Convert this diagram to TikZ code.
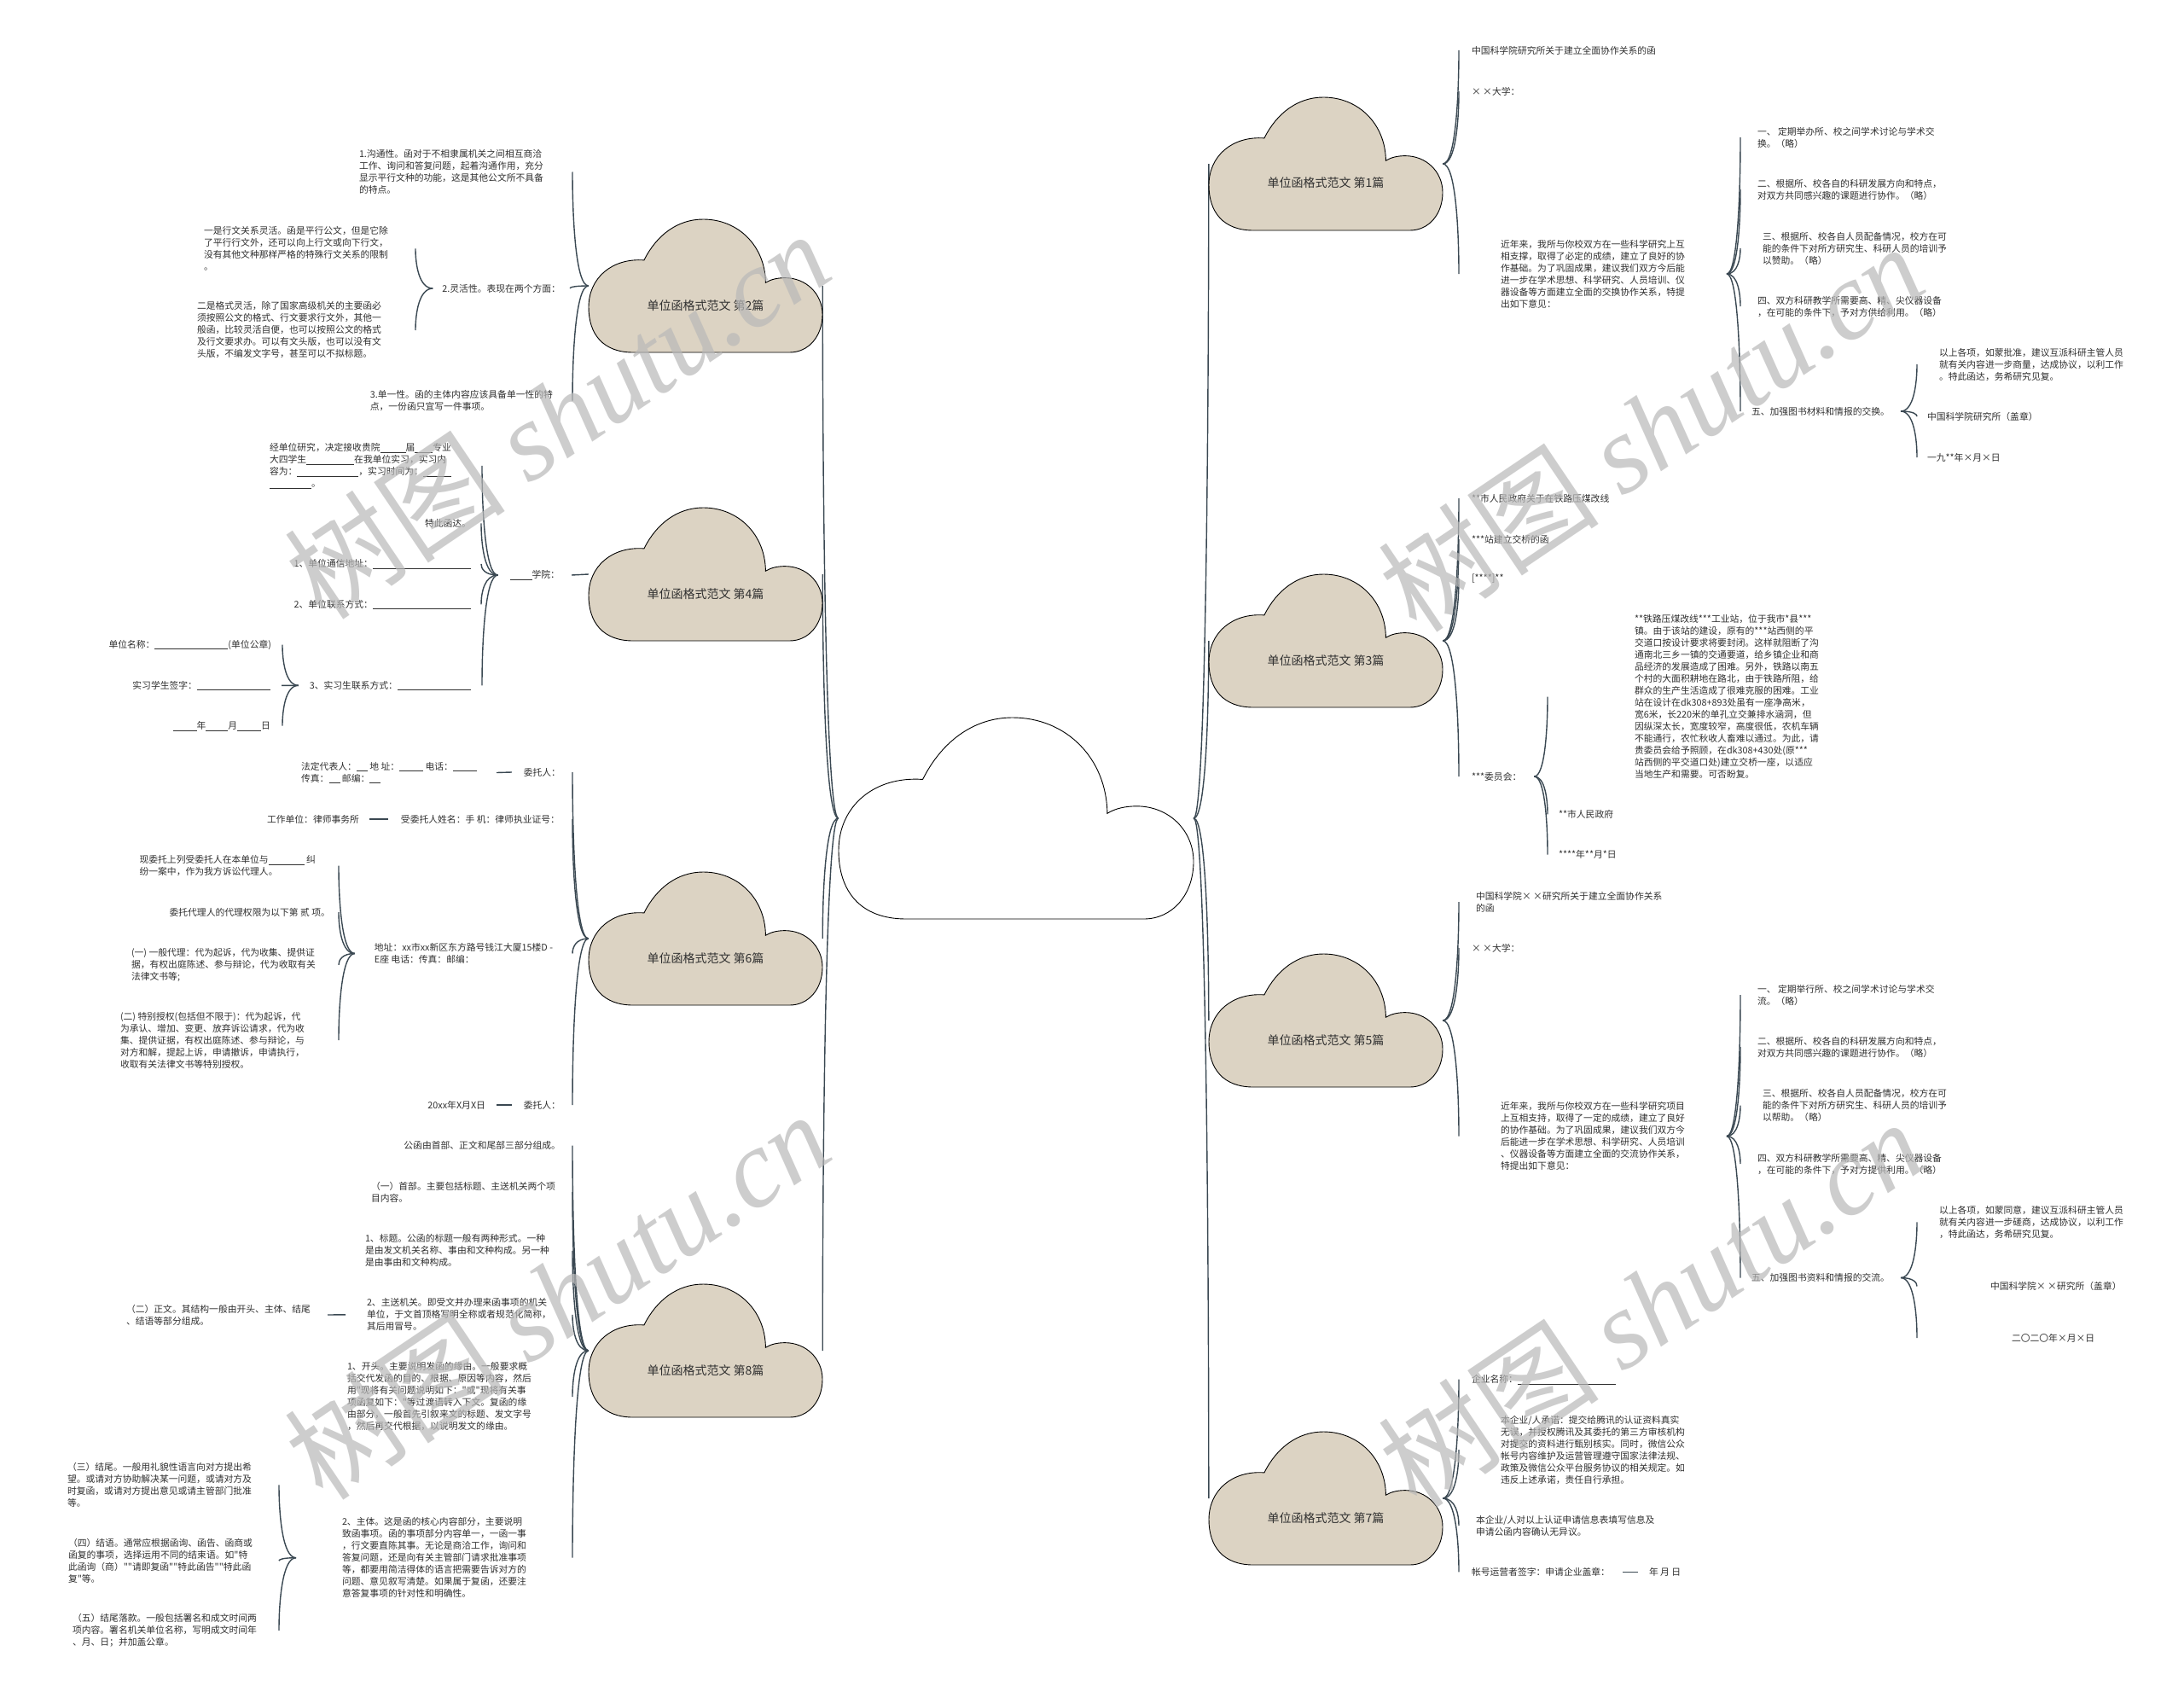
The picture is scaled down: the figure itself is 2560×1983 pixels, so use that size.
\documentclass[tikz,border=0pt]{standalone}
\usepackage{fontspec}
\setmainfont{Noto Sans CJK SC}[Ligatures=TeXOff]
\newfontfamily\wmfont{Liberation Serif}
\usetikzlibrary{calc,backgrounds}
\definecolor{linkcol}{RGB}{58,72,82}
\definecolor{cloudbg}{RGB}{220,211,195}
\definecolor{txtcol}{RGB}{48,48,48}
\definecolor{wmcol}{RGB}{185,185,185}
\newcommand{\fillin}[1]{\rule[-1.5pt]{#1pt}{0.5pt}}
\newcommand{\cloudtitle}[1]{\raisebox{-28pt}[0pt][0pt]{#1}}
\newcommand{\linkto}[2]{\draw[link] (#1) .. controls ($(#1)!0.8!(#1 -| #2)$) and ($(#2)!0.4!(#2 |- #1)$) .. (#2);}
\tikzset{
  pics/cloud/.style={code={
    \filldraw[pic actions] (-0.31,0.5) .. controls (-0.44,0.5) and (-0.5,0.36) .. (-0.5,0.16)
      .. controls (-0.5,-0.06) and (-0.4,-0.21) .. (-0.263,-0.193)
      .. controls (-0.21,-0.38) and (-0.12,-0.5) .. (-0.01,-0.5)
      .. controls (0.14,-0.5) and (0.255,-0.3) .. (0.257,-0.024)
      .. controls (0.28,-0.05) and (0.31,-0.06) .. (0.34,-0.06)
      .. controls (0.43,-0.06) and (0.5,0.06) .. (0.5,0.215)
      .. controls (0.5,0.38) and (0.44,0.5) .. (0.36,0.5) -- cycle;
  }}
}
\begin{document}
\begin{tikzpicture}[
  x=1pt, y=-1pt,
  link/.style={draw=linkcol, line width=1.4pt},
  cloudfill/.style={fill=cloudbg, draw=black, line width=0.9pt, xscale=274, yscale=156},
  hubfill/.style={fill=white, draw=black, line width=0.9pt, xscale=416, yscale=236},
  cloudbox/.style={minimum width=274pt, minimum height=156pt, inner sep=0pt,
                   font=\fontsize{14}{16}\selectfont, text=txtcol},
  hubbox/.style={minimum width=416pt, minimum height=236pt, inner sep=0pt},
  txt/.style={font=\fontsize{10.8}{14}\selectfont, text=txtcol, align=left, inner sep=0pt},
  lnode/.style={txt, anchor=east, outer xsep=#1}, lnode/.default=20pt,
  rnode/.style={txt, anchor=west, outer xsep=#1}, rnode/.default=15pt,
  wmark/.style={text=wmcol, opacity=0.7, rotate=34, font=\fontsize{130}{130}\selectfont}
]
\useasboundingbox (0,0) rectangle (2560,1983);

% clouds
\pic[hubfill] at (1191,959) {cloud};
\node[hubbox] (hub) at (1191,959) {};
\foreach \cname/\cx/\cy/\idx in {c2/827/335/2, c4/827/673/4, c6/827/1100/6, c8/827/1583/8,
                                 c1/1554/192/1, c3/1554/751/3, c5/1554/1196/5, c7/1554/1756/7} {
  \pic[cloudfill] at (\cx,\cy) {cloud};
  \node[cloudbox] (\cname) at (\cx,\cy) {\cloudtitle{单位函格式范文 第\idx{}篇}};
}

% left: 第2篇
\node[lnode=34pt] (t2a) at (671,201.5) {1.沟通性。函对于不相隶属机关之间相互商洽\\工作、询问和答复问题，起着沟通作用，充分\\显示平行文种的功能，这是其他公文所不具备\\的特点。};
\node[lnode=11pt] (t2b) at (668,338) {2.灵活性。表现在两个方面：};
\node[lnode=23pt] (t2c) at (671,469.5) {3.单一性。函的主体内容应该具备单一性的特\\点，一份函只宜写一件事项。};
\node[lnode=32pt] (t2b1) at (487,291.3) {一是行文关系灵活。函是平行公文，但是它除\\了平行行文外，还可以向上行文或向下行文，\\没有其他文种那样严格的特殊行文关系的限制\\。};
\node[lnode=40pt] (t2b2) at (487,387) {二是格式灵活，除了国家高级机关的主要函必\\须按照公文的格式、行文要求行文外，其他一\\般函，比较灵活自便，也可以按照公文的格式\\及行文要求办。可以有文头版，也可以没有文\\头版，不编发文字号，甚至可以不拟标题。};

% left: 第4篇
\node[lnode=14pt] (t4) at (670,674) {\fillin{26}学院：};
\node[lnode=36pt] (t4a) at (565,545.8) {经单位研究，决定接收贵院\fillin{30}届\fillin{21}专业\\大四学生\fillin{56}在我单位实习，实习内\\容为：\fillin{72}，实习时间为：\fillin{33}\\\fillin{49}。};
\node[lnode=12pt] (t4b) at (564,613.3) {特此函达。};
\node[lnode=12pt] (t4c) at (564,661) {1、单位通信地址：\fillin{115}};
\node[lnode=12pt] (t4d) at (564,708.3) {2、单位联系方式：\fillin{115}};
\node[lnode=13pt] (t4e) at (565,803.3) {3、实习生联系方式：\fillin{86}};
\node[lnode=13pt] (t4e1) at (331,755.7) {单位名称：\fillin{86}(单位公章)};
\node[lnode=13pt] (t4e2) at (330,803.3) {实习学生签字：\fillin{86}};
\node[lnode=14pt] (t4e3) at (331,850.7) {\fillin{28}年\fillin{26}月\fillin{28}日};

% left: 第6篇
\node[lnode=14pt] (t6a) at (671,905) {委托人：};
\node[lnode=23pt] (t6a1) at (582,905.5) {法定代表人：\fillin{13} 地 址：\fillin{28} 电话：\fillin{28}\\传真：\fillin{13} 邮编：\fillin{13}};
\node[lnode=15pt] (t6b) at (671,960) {受委托人姓名：手 机：律师执业证号：};
\node[lnode=12pt] (t6b1) at (433,960) {工作单位：律师事务所};
\node[lnode=23pt] (t6c) at (671,1117.5) {地址：xx市xx新区东方路号钱江大厦15楼D -\\E座 电话：传真：邮编：};
\node[lnode=27pt] (t6c1) at (397,1014.7) {现委托上列受委托人在本单位与\fillin{42} 纠\\纷一案中，作为我方诉讼代理人。};
\node[lnode=10pt] (t6c2) at (397,1069) {委托代理人的代理权限为以下第 贰 项。};
\node[lnode=27pt] (t6c3) at (397,1130.8) {(一) 一般代理：代为起诉，代为收集、提供证\\据，有权出庭陈述、参与辩论，代为收取有关\\法律文书等;};
\node[lnode=40pt] (t6c4) at (397,1219) {(二) 特别授权(包括但不限于)：代为起诉，代\\为承认、增加、变更、放弃诉讼请求，代为收\\集、提供证据，有权出庭陈述、参与辩论，与\\对方和解，提起上诉，申请撤诉，申请执行，\\收取有关法律文书等特别授权。};
\node[lnode=14pt] (t6d) at (671,1295) {委托人：};
\node[lnode=13pt] (t6d1) at (582,1295) {20xx年X月X日};

% left: 第8篇
\node[lnode=14pt] (t8a) at (671,1342.7) {公函由首部、正文和尾部三部分组成。};
\node[lnode=20pt] (t8b) at (671,1397) {（一）首部。主要包括标题、主送机关两个项\\目内容。};
\node[lnode=27pt] (t8c) at (671,1465.8) {1、标题。公函的标题一般有两种形式。一种\\是由发文机关名称、事由和文种构成。另一种\\是由事由和文种构成。};
\node[lnode=25pt] (t8d) at (671,1540.8) {2、主送机关。即受文并办理来函事项的机关\\单位，于文首顶格写明全称或者规范化简称，\\其后用冒号。};
\node[lnode=20pt] (t8d1) at (384,1541) {（二）正文。其结构一般由开头、主体、结尾\\、结语等部分组成。};
\node[lnode=48pt] (t8e) at (671,1637) {1、开头。主要说明发函的缘由。一般要求概\\括交代发函的目的、根据、原因等内容，然后\\用"现将有关问题说明如下："或"现将有关事\\项函复如下："等过渡语转入下文。复函的缘\\由部分，一般首先引叙来文的标题、发文字号\\，然后再交代根据，以说明发文的缘由。};
\node[lnode=54pt] (t8f) at (671,1825.7) {2、主体。这是函的核心内容部分，主要说明\\致函事项。函的事项部分内容单一，一函一事\\，行文要直陈其事。无论是商洽工作，询问和\\答复问题，还是向有关主管部门请求批准事项\\等，都要用简洁得体的语言把需要告诉对方的\\问题、意见叙写清楚。如果属于复函，还要注\\意答复事项的针对性和明确性。};
\node[lnode=32pt] (t8f1) at (327,1740.3) {（三）结尾。一般用礼貌性语言向对方提出希\\望。或请对方协助解决某一问题，或请对方及\\时复函，或请对方提出意见或请主管部门批准\\等。};
\node[lnode=31pt] (t8f2) at (327,1829.2) {（四）结语。通常应根据函询、函告、函商或\\函复的事项，选择运用不同的结束语。如"特\\此函询（商）""请即复函""特此函告""特此函\\复"等。};
\node[lnode=26pt] (t8f3) at (327,1910.8) {（五）结尾落款。一般包括署名和成文时间两\\项内容。署名机关单位名称，写明成文时间年\\、月、日；并加盖公章。};

% right: 第1篇
\node[rnode] (r1a) at (1710,59) {中国科学院研究所关于建立全面协作关系的函};
\node[rnode] (r1b) at (1710,107) {× ×大学：};
\node[rnode=49pt] (r1c) at (1710,321) {近年来，我所与你校双方在一些科学研究上互\\相支撑，取得了必定的成绩，建立了良好的协\\作基础。为了巩固成果，建议我们双方今后能\\进一步在学术思想、科学研究、人员培训、仪\\器设备等方面建立全面的交换协作关系，特提\\出如下意见：};
\node[rnode=20pt] (r1c1) at (2040,161) {一、 定期举办所、校之间学术讨论与学术交\\换。（略）};
\node[rnode=20pt] (r1c2) at (2040,222) {二、根据所、校各自的科研发展方向和特点，\\对双方共同感兴趣的课题进行协作。（略）};
\node[rnode=26pt] (r1c3) at (2040,291) {三、根据所、校各自人员配备情况，校方在可\\能的条件下对所方研究生、科研人员的培训予\\以赞助。（略）};
\node[rnode=20pt] (r1c4) at (2040,359) {四、双方科研教学所需要高、精、尖仪器设备\\，在可能的条件下，予对方供给利用。（略）};
\node[rnode=13pt] (r1c5) at (2040,482) {五、加强图书材料和情报的交换。};
\node[rnode=26pt] (r1c5a) at (2247,427) {以上各项，如蒙批准，建议互派科研主管人员\\就有关内容进一步商量，达成协议，以利工作\\。特此函达，务希研究见复。};
\node[rnode=12pt] (r1c5b) at (2247,488) {中国科学院研究所（盖章）};
\node[rnode=12pt] (r1c5c) at (2247,536) {一九**年×月×日};

% right: 第3篇
\node[rnode] (r3a) at (1710,584) {**市人民政府关于在铁路压煤改线};
\node[rnode] (r3b) at (1710,632) {***站建立交桥的函};
\node[rnode] (r3c) at (1710,678) {\relax[****]**};
\node[rnode] (r3d) at (1710,910) {***委员会：};
\node[rnode=102pt] (r3d1) at (1814,816.5) {**铁路压煤改线***工业站，位于我市*县***\\镇。由于该站的建设，原有的***站西侧的平\\交道口按设计要求将要封闭。这样就阻断了沟\\通南北三乡一镇的交通要道，给乡镇企业和商\\品经济的发展造成了困难。另外，铁路以南五\\个村的大面积耕地在路北，由于铁路所阻，给\\群众的生产生活造成了很难克服的困难。工业\\站在设计在dk308+893处虽有一座净高米，\\宽6米，长220米的单孔立交兼排水涵洞，但\\因纵深太长，宽度较窄，高度很低，农机车辆\\不能通行，农忙秋收人畜难以通过。为此，请\\贵委员会给予照顾，在dk308+430处(原***\\站西侧的平交道口处)建立交桥一座，以适应\\当地生产和需要。可否盼复。};
\node[rnode=13pt] (r3d2) at (1814,954.3) {**市人民政府};
\node[rnode=13pt] (r3d3) at (1814,1001.7) {****年**月*日};

% right: 第5篇
\node[rnode=20pt] (r5a) at (1710,1057) {中国科学院× ×研究所关于建立全面协作关系\\的函};
\node[rnode] (r5b) at (1710,1111) {× ×大学：};
\node[rnode=49pt] (r5c) at (1710,1331.6) {近年来，我所与你校双方在一些科学研究项目\\上互相支持，取得了一定的成绩，建立了良好\\的协作基础。为了巩固成果，建议我们双方今\\后能进一步在学术思想、科学研究、人员培训\\、仪器设备等方面建立全面的交流协作关系，\\特提出如下意见：};
\node[rnode=20pt] (r5c1) at (2040,1166) {一、 定期举行所、校之间学术讨论与学术交\\流。（略）};
\node[rnode=20pt] (r5c2) at (2040,1227) {二、根据所、校各自的科研发展方向和特点，\\对双方共同感兴趣的课题进行协作。（略）};
\node[rnode=26pt] (r5c3) at (2040,1295.5) {三、根据所、校各自人员配备情况，校方在可\\能的条件下对所方研究生、科研人员的培训予\\以帮助。（略）};
\node[rnode=20pt] (r5c4) at (2040,1364) {四、双方科研教学所需要高、精、尖仪器设备\\，在可能的条件下，予对方提供利用。（略）};
\node[rnode=13pt] (r5c5) at (2040,1497.5) {五、加强图书资料和情报的交流。};
\node[rnode=26pt] (r5c5a) at (2247,1432.4) {以上各项，如蒙同意，建议互派科研主管人员\\就有关内容进一步磋商，达成协议，以利工作\\，特此函达，务希研究见复。};
\node[rnode=86pt] (r5c5b) at (2247,1507.5) {中国科学院× ×研究所（盖章）};
\node[rnode=111pt] (r5c5c) at (2247,1568) {二〇二〇年×月×日};

% right: 第7篇
\node[rnode] (r7a) at (1710,1616.7) {企业名称：\fillin{115}};
\node[rnode=49pt] (r7b) at (1710,1699) {本企业/人承诺：提交给腾讯的认证资料真实\\无误，并授权腾讯及其委托的第三方审核机构\\对提交的资料进行甄别核实。同时，微信公众\\帐号内容维护及运营管理遵守国家法律法规、\\政策及微信公众平台服务协议的相关规定。如\\违反上述承诺，责任自行承担。};
\node[rnode=20pt] (r7c) at (1710,1788) {本企业/人对以上认证申请信息表填写信息及\\申请公函内容确认无异议。};
\node[rnode] (r7d) at (1710,1842.3) {帐号运营者签字：申请企业盖章：};
\node[rnode=13pt] (r7d1) at (1920,1842.3) {年 月 日};

% connectors
\begin{scope}[on background layer]
\fill[white] (0,0) rectangle (2560,1983);
\foreach \cname in {c2,c4,c6,c8} \linkto{hub.west}{\cname.east};
\foreach \cname in {c1,c3,c5,c7} \linkto{hub.east}{\cname.west};
\foreach \nd in {t2a,t2b,t2c} \linkto{c2.west}{\nd.east};
\foreach \nd in {t2b1,t2b2} \linkto{t2b.west}{\nd.east};
\draw[link] (c4.west) -- (t4.east);
\foreach \nd in {t4a,t4b,t4c,t4d,t4e} \linkto{t4.west}{\nd.east};
\foreach \nd in {t4e1,t4e2,t4e3} \linkto{t4e.west}{\nd.east};
\foreach \nd in {t6a,t6b,t6c,t6d} \linkto{c6.west}{\nd.east};
\draw[link] (t6a.west) -- (t6a1.east);
\draw[link] (t6b.west) -- (t6b1.east);
\foreach \nd in {t6c1,t6c2,t6c3,t6c4} \linkto{t6c.west}{\nd.east};
\draw[link] (t6d.west) -- (t6d1.east);
\foreach \nd in {t8a,t8b,t8c,t8d,t8e,t8f} \linkto{c8.west}{\nd.east};
\draw[link] (t8d.west) -- (t8d1.east);
\foreach \nd in {t8f1,t8f2,t8f3} \linkto{t8f.west}{\nd.east};
\foreach \nd in {r1a,r1b,r1c} \linkto{c1.east}{\nd.west};
\foreach \nd in {r1c1,r1c2,r1c3,r1c4,r1c5} \linkto{r1c.east}{\nd.west};
\foreach \nd in {r1c5a,r1c5b,r1c5c} \linkto{r1c5.east}{\nd.west};
\foreach \nd in {r3a,r3b,r3c,r3d} \linkto{c3.east}{\nd.west};
\foreach \nd in {r3d1,r3d2,r3d3} \linkto{r3d.east}{\nd.west};
\foreach \nd in {r5a,r5b,r5c} \linkto{c5.east}{\nd.west};
\foreach \nd in {r5c1,r5c2,r5c3,r5c4,r5c5} \linkto{r5c.east}{\nd.west};
\foreach \nd in {r5c5a,r5c5b,r5c5c} \linkto{r5c5.east}{\nd.west};
\foreach \nd in {r7a,r7b,r7c,r7d} \linkto{c7.east}{\nd.west};
\draw[link] (r7d.east) -- (r7d1.west);
\end{scope}

% watermark
\foreach \wx/\wy [count=\wi] in {653/486, 1935/501, 653/1518, 1935/1527}
  \node[wmark] (wm\wi) at (\wx,\wy) {树图 {\wmfont\itshape shutu.cn}};
\end{tikzpicture}
\end{document}
